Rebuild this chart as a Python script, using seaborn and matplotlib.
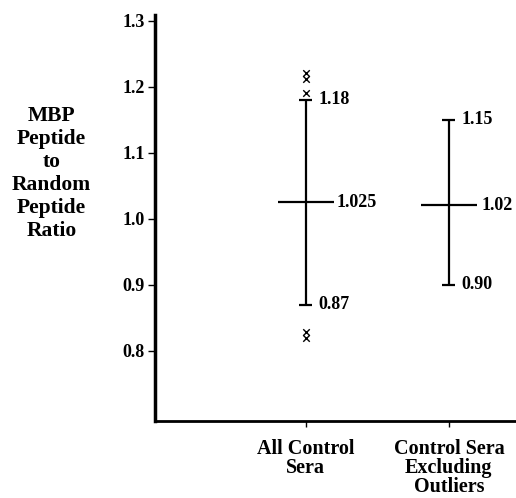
import matplotlib
matplotlib.use("Agg")
import matplotlib.pyplot as plt
import seaborn as sns
import pandas as pd

categories = ["All Control\nSera", "Control Sera\nExcluding\nOutliers"]
means = [1.025, 1.02]
lowers = [0.87, 0.90]
uppers = [1.18, 1.15]
mean_labels = ["1.025", "1.02"]
lower_labels = ["0.87", "0.90"]
upper_labels = ["1.18", "1.15"]
outlier_group = [0, 0, 0, 0, 0]
outlier_values = [1.221, 1.212, 1.190, 0.828, 0.819]
yticks = [0.8, 0.9, 1.0, 1.1, 1.2, 1.3]

sns.set_theme(style="ticks")
plt.rcParams['font.family'] = ['Liberation Serif', 'DejaVu Serif']
plt.rcParams['font.weight'] = 'bold'
plt.rcParams['text.color'] = 'black'
plt.rcParams['xtick.color'] = 'black'
plt.rcParams['ytick.color'] = 'black'
plt.rcParams['xtick.labelcolor'] = 'black'
plt.rcParams['ytick.labelcolor'] = 'black'

fig = plt.figure(figsize=(5.16, 4.98), dpi=100)
ax = fig.add_axes([0.300, 0.1546, 0.700, 0.8153])

positions = list(range(len(categories)))
half_mean = 0.195
half_cap = 0.046

for i, p in enumerate(positions):
    ax.vlines(p, lowers[i], uppers[i], color="black", lw=1.6)
    ax.hlines([lowers[i], uppers[i]], p - half_cap, p + half_cap, color="black", lw=1.6)
    ax.hlines(means[i], p - half_mean, p + half_mean, color="black", lw=1.6)
    ax.text(p + half_cap + 0.04, uppers[i], upper_labels[i], va="center", ha="left",
            fontsize=13, fontweight="bold", color="black")
    ax.text(p + half_cap + 0.04, lowers[i], lower_labels[i], va="center", ha="left",
            fontsize=13, fontweight="bold", color="black")
    ax.text(p + half_mean + 0.02 + 0.015 * i, means[i], mean_labels[i], va="center", ha="left",
            fontsize=13, fontweight="bold", color="black")

df_out = pd.DataFrame({"pos": [positions[g] for g in outlier_group], "value": outlier_values})
sns.scatterplot(data=df_out, x="pos", y="value", marker="x", s=22, color="black",
                linewidth=1.0, ax=ax, legend=False, zorder=5)

ax.set_xlim(-1.056, 1.469)
ax.set_ylim(0.6935, 1.3086)
ax.set_yticks(yticks)
ax.set_yticklabels([f"{v:.1f}" for v in yticks], fontsize=13, fontweight="bold")
ax.set_xticks(positions)
ax.set_xticklabels(categories, fontsize=14.5, fontweight="bold", linespacing=0.92)
ax.tick_params(axis="x", length=4, width=1, pad=9, direction="out")
ax.tick_params(axis="y", length=5, width=1, pad=2, direction="out")
ax.set_xlabel("")
ax.set_ylabel("")

sns.despine(ax=ax, top=True, right=True)
ax.spines["left"].set_linewidth(2.5)
ax.spines["bottom"].set_linewidth(2.0)
ax.spines["left"].set_color("black")
ax.spines["bottom"].set_color("black")

fig.text(0.100, 0.652, "MBP\nPeptide\nto\nRandom\nPeptide\nRatio", ha="center", va="center",
         fontsize=15.5, fontweight="bold", linespacing=1.2, color="black")

fig.savefig("out.png", dpi=100, facecolor="white")
